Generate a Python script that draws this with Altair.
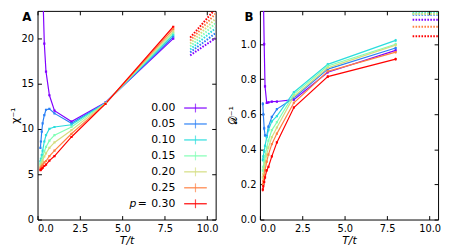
import altair as alt
import pandas as pd

# ---------------- data ----------------
T_VALUES = [0.17, 0.2, 0.25, 0.3, 0.4, 0.5, 0.7, 1.0, 2.0, 4.0, 8.0]
P_LABELS = ["0.00", "0.05", "0.10", "0.15", "0.20", "0.25", "0.30"]
COLORS = ["#8000ff", "#2b80f6", "#2bdddd", "#80ffb4", "#d4dd80", "#ff8042", "#ff0000"]

# panel A : inverse susceptibility
CHI_P000 = [60.0, 45.0, 33.0, 26.0, 19.4, 16.3, 13.7, 12.0, 10.8, 12.9, 19.95]
CHI_P005 = [7.9, 8.6, 9.7, 10.6, 11.5, 12.1, 12.2, 11.7, 10.6, 12.85, 20.15]
CHI_P010 = [6.4, 6.7, 7.1, 7.6, 8.6, 9.3, 10.0, 10.2, 10.45, 12.85, 20.35]
CHI_P015 = [6.1, 6.3, 6.6, 6.9, 7.5, 8.0, 8.7, 9.3, 10.2, 12.8, 20.55]
CHI_P020 = [5.85, 6.0, 6.25, 6.5, 6.95, 7.3, 7.9, 8.5, 9.85, 12.8, 20.75]
CHI_P025 = [5.65, 5.75, 5.9, 6.05, 6.3, 6.45, 7.0, 7.6, 9.45, 12.75, 21.0]
CHI_P030 = [5.45, 5.5, 5.6, 5.7, 5.9, 6.05, 6.5, 7.0, 9.1, 12.75, 21.25]

# panel B : inverse D
D_P000 = [1.6, 1.3, 1.0, 0.76, 0.665, 0.668, 0.672, 0.673, 0.684, 0.84, 0.965]
D_P005 = [0.66, 0.6, 0.52, 0.48, 0.475, 0.53, 0.585, 0.63, 0.693, 0.858, 0.978]
D_P010 = [0.34, 0.36, 0.39, 0.42, 0.47, 0.51, 0.56, 0.59, 0.726, 0.885, 1.022]
D_P015 = [0.28, 0.3, 0.33, 0.36, 0.41, 0.45, 0.51, 0.555, 0.715, 0.876, 1.0]
D_P020 = [0.24, 0.26, 0.29, 0.32, 0.37, 0.41, 0.47, 0.525, 0.702, 0.865, 0.995]
D_P025 = [0.2, 0.22, 0.25, 0.28, 0.33, 0.37, 0.43, 0.49, 0.666, 0.845, 0.955]
D_P030 = [0.17, 0.19, 0.215, 0.24, 0.28, 0.3, 0.36, 0.44, 0.639, 0.815, 0.915]
D_ERR = [0.01, 0.01, 0.01, 0.008, 0.006, 0.005, 0.005, 0.005, 0.006, 0.008, 0.008]

# high-temperature (dotted) lines
DOT_T = [9.0, 10.5]
CHI_DOT_START = [18.1, 18.43, 18.75, 19.08, 19.4, 19.73, 20.05]
CHI_DOT_END = [20.0, 20.55, 21.1, 21.65, 22.15, 22.7, 23.25]
D_DOT = [1.14, 1.168, 1.178, 1.175, 1.172, 1.10, 1.045]

X_TICKS = [0, 2.5, 5, 7.5, 10]
CHI_TICKS = [0, 5, 10, 15, 20]
D_TICKS = [0, 0.2, 0.4, 0.6, 0.8, 1.0]

FONT = "DejaVu Sans"
W, H = 181, 212


def long_df(series, err=None):
    rows = []
    for k, (lab, vals) in enumerate(zip(P_LABELS, series)):
        for i, (t, v) in enumerate(zip(T_VALUES, vals)):
            r = {"p": lab, "k": k, "T": t, "v": v}
            if err is not None:
                r["lo"] = v - err[i]
                r["hi"] = v + err[i]
            rows.append(r)
    return pd.DataFrame(rows)


def dot_df(starts, ends):
    rows = []
    for k, (lab, a, b) in enumerate(zip(P_LABELS, starts, ends)):
        rows.append({"p": lab, "k": k, "T": DOT_T[0], "v": a})
        rows.append({"p": lab, "k": k, "T": DOT_T[1], "v": b})
    return pd.DataFrame(rows)


chi_df = long_df([CHI_P000, CHI_P005, CHI_P010, CHI_P015, CHI_P020, CHI_P025, CHI_P030])
d_df = long_df([D_P000, D_P005, D_P010, D_P015, D_P020, D_P025, D_P030], D_ERR)
chi_dots = dot_df(CHI_DOT_START, CHI_DOT_END)
d_dots = dot_df(D_DOT, D_DOT)

legend_df = pd.DataFrame({
    "p": P_LABELS,
    "idx": list(range(len(P_LABELS))),
    "pre": [""] * (len(P_LABELS) - 1) + ["p"],
    "eq": [""] * (len(P_LABELS) - 1) + ["="],
})


def panel(df, dots, ydom, yticks, yfmt, ytitle, ytitle_pad, letter, with_legend, with_err):
    xs = alt.Scale(domain=[0, 10.5], nice=False, zero=False)
    ys = alt.Scale(domain=ydom, nice=False, zero=False)
    cs = alt.Scale(domain=P_LABELS, range=COLORS)
    color = alt.Color("p:N", scale=cs, legend=None)
    common = dict(tickSize=4, tickColor="black", tickWidth=1, offset=-4, domain=False,
                  grid=False, labelFont=FONT, labelFontSize=10, labelColor="black",
                  titleFont=FONT, titleColor="black", titleFontWeight="normal",
                  titleFontSize=11)
    xaxis = alt.Axis(orient="bottom", values=X_TICKS, format=".1f", labelPadding=4,
                     title="T/t", titleFontStyle="italic", titlePadding=1, **common)
    yaxis = alt.Axis(orient="left", values=yticks, format=yfmt, labelPadding=4,
                     title=ytitle, titlePadding=ytitle_pad, **common)
    top = alt.Axis(orient="top", values=X_TICKS, labels=False, title="", **common)
    right = alt.Axis(orient="right", values=yticks, labels=False, title="", **common)

    layers = []
    layers.append(alt.Chart(df).mark_point(opacity=0, clip=True).encode(
        x=alt.X("T:Q", scale=xs, axis=top),
        y=alt.Y("v:Q", scale=ys, axis=right)))
    layers.append(alt.Chart(dots).mark_line(clip=True, strokeWidth=2, strokeDash=[1.6, 1.4]).encode(
        x=alt.X("T:Q", scale=xs, axis=None),
        y=alt.Y("v:Q", scale=ys, axis=None),
        color=color, order="T:Q"))
    if with_err:
        layers.append(alt.Chart(df).mark_rule(clip=True, strokeWidth=1).encode(
            x=alt.X("T:Q", scale=xs, axis=None),
            y=alt.Y("lo:Q", scale=ys, axis=None), y2="hi:Q",
            color=color))
    layers.append(alt.Chart(df).mark_line(
        clip=True, strokeWidth=1.2,
        point=alt.OverlayMarkDef(shape="square", size=5, filled=True, clip=True)).encode(
        x=alt.X("T:Q", scale=xs, axis=xaxis),
        y=alt.Y("v:Q", scale=ys, axis=yaxis),
        color=color, order="T:Q"))

    if with_legend:
        ly = alt.Y("idx:Q", scale=alt.Scale(domain=[0, 6], range=[98.7, 196]), axis=None)
        lbase = alt.Chart(legend_df)
        layers.append(lbase.mark_text(align="right", baseline="middle", fontSize=11,
                                      font=FONT, color="black").encode(
            x=alt.value(140), y=ly, text="p:N"))
        layers.append(lbase.mark_text(align="center", baseline="middle", fontSize=11,
                                      font=FONT, fontStyle="italic", color="black").encode(
            x=alt.value(97), y=ly, text="pre:N"))
        layers.append(lbase.mark_text(align="center", baseline="middle", fontSize=11,
                                      font=FONT, color="black").encode(
            x=alt.value(106.5), y=ly, text="eq:N"))
        layers.append(lbase.mark_rule(strokeWidth=1.2).encode(
            x=alt.value(149), x2=alt.value(172), y=ly, color=color))
        layers.append(lbase.mark_tick(orient="vertical", size=9, thickness=1.2).encode(
            x=alt.value(160.5), y=ly, color=color))

    layers.append(alt.Chart(pd.DataFrame({"t": [letter]})).mark_text(
        fontWeight="bold", fontSize=12, font=FONT, align="center", baseline="top",
        color="black").encode(x=alt.value(-11), y=alt.value(1), text="t:N"))

    return alt.layer(*layers).resolve_scale(
        x="independent", y="independent", color="independent").resolve_axis(
        x="independent", y="independent").properties(width=W, height=H)


pa = panel(chi_df, chi_dots, [0, 23], CHI_TICKS, "d", "χ⁻¹", 1, "A", True, False)
pb = panel(d_df, d_dots, [0, 1.19], D_TICKS, ".1f", "𝒟⁻¹", 2, "B", False, True)

chart = alt.hconcat(pa, pb, spacing=7).configure_view(
    stroke="black", strokeWidth=1).properties(
    padding={"left": 0, "top": 0, "right": 0, "bottom": 0},
    background="white")

chart.save("out.html", embed_options={"renderer": "svg", "actions": False})
